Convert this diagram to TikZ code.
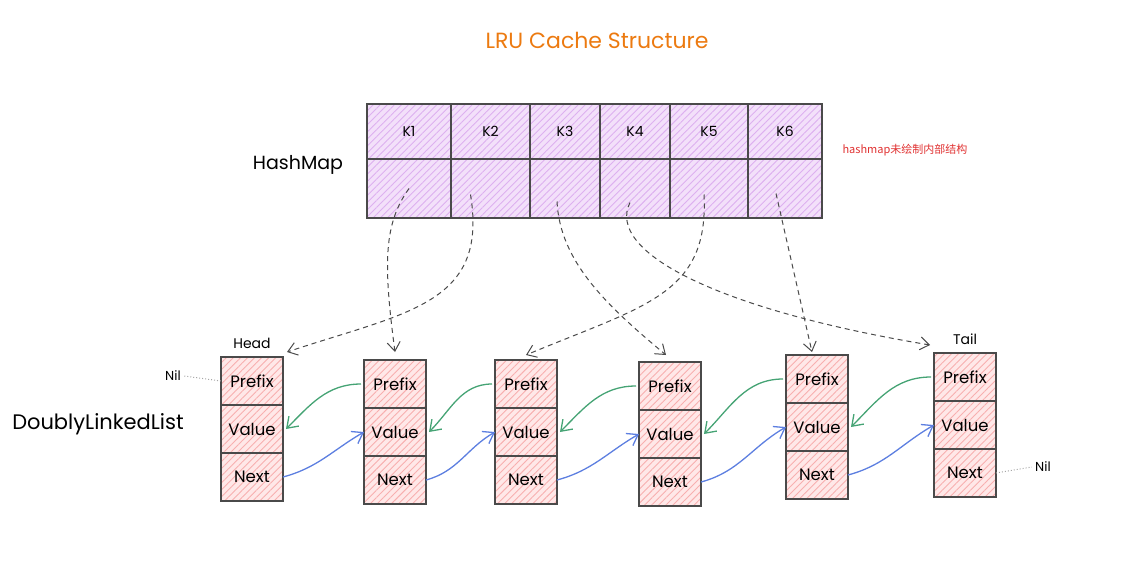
\documentclass[tikz,border=0pt]{standalone}
\usepackage{fontspec}
\setmainfont{Poppins}
\newfontfamily\cjkfont{Noto Sans CJK SC}
\usetikzlibrary{arrows.meta, positioning, patterns.meta}
\definecolor{hmFill}{HTML}{F3E0FA}
\definecolor{hmHatch}{HTML}{DDB0F0}
\definecolor{cellFill}{HTML}{FFE8E8}
\definecolor{cellHatch}{HTML}{F8AFAF}
\definecolor{edgeGray}{HTML}{4A4A4A}
\definecolor{prevGreen}{HTML}{45A374}
\definecolor{nextBlue}{HTML}{5D7FE0}
\definecolor{titleOrange}{HTML}{EC7A10}
\definecolor{noteRed}{HTML}{E03131}
\tikzset{
  kcell/.style={rectangle, draw=edgeGray, line width=1.2pt, outer sep=0pt,
                inner sep=0pt, minimum height=55pt,
                preaction={fill=hmFill},
                pattern={Lines[angle=45, distance=5pt, line width=0.9pt]},
                pattern color=hmHatch, font=\fontsize{14}{16}\selectfont},
  hcell/.style={kcell, minimum height=59pt},
  cell/.style={rectangle, draw=edgeGray, line width=1.2pt, outer sep=0pt,
               inner sep=0pt, minimum width=62pt, minimum height=48pt,
               preaction={fill=cellFill},
               pattern={Lines[angle=45, distance=5pt, line width=0.9pt]},
               pattern color=cellHatch, font=\fontsize{16.5}{19}\selectfont},
  keyarrow/.style={draw=edgeGray, line width=1pt, dash pattern=on 5pt off 4pt,
                   -{Straight Barb[length=9pt, width=13pt]}},
  prevarrow/.style={draw=prevGreen, line width=1.3pt,
                    -{Straight Barb[length=10pt, width=14pt]}},
  nextarrow/.style={draw=nextBlue, line width=1.3pt,
                    -{Straight Barb[length=10pt, width=14pt]}},
  nilline/.style={draw=gray!70, line width=1pt, dotted},
  lbl/.style={font=\fontsize{14}{16}\selectfont},
}
\begin{document}
\begin{tikzpicture}[x=1pt, y=-1pt]
    \useasboundingbox (0,0) rectangle (1143,584);
    % title and side labels
    \node[text=titleOrange, font=\fontsize{22}{26}\selectfont] (title) at (597,40) {LRU Cache Structure};
    \node[font=\fontsize{19}{22}\selectfont] (hmlabel) at (298,165) {HashMap};
    \node[font=\fontsize{21}{25}\selectfont] (dlllabel) at (98,424) {DoublyLinkedList};
    % hashmap
    \foreach \i/\x/\w in {1/367/84,2/451/79,3/530/70,4/600/70,5/670/78,6/748/74}{
      \node[kcell, minimum width=\w pt, anchor=north west] (k\i) at (\x,104) {K\i};
      \node[hcell, minimum width=\w pt, below=0pt of k\i] (h\i) {};
    }
    \node[anchor=west, text=noteRed, font=\cjkfont\fontsize{11}{13}\selectfont] (note) at (839,150) {hashmap未绘制内部结构};
    % list entries
    \foreach \i/\x/\y in {1/252/357,2/395/360,3/526/360,4/670/362,5/817/355,6/965/353}{
      \node[cell, anchor=north] (pre\i) at (\x,\y) {Prefix};
      \node[cell, below=0pt of pre\i] (val\i) {Value};
      \node[cell, below=0pt of val\i] (nxt\i) {Next};
    }
    \node[lbl, above=5pt of pre1] (head) {Head};
    \node[lbl, above=5pt of pre6] (tail) {Tail};
    \node[font=\fontsize{13}{15}\selectfont] (nilL) at (173,376) {Nil};
    \node[font=\fontsize{13}{15}\selectfont] (nilR) at (1043,467) {Nil};
    \draw[nilline] (nilL.east) -- (pre1.west);
    \draw[nilline] (nxt6.east) -- (nilR.west);
    % prev / next links
    \foreach \i/\j in {1/2,2/3,3/4,4/5,5/6}{
      \draw[prevarrow] ([xshift=-3pt]pre\j.west) to[out=180, in=45] ([xshift=3pt]val\i.east);
      \draw[nextarrow] (nxt\i.east) to[out=15, in=210] (val\j.west);
    }
    % hashmap slots -> entries
    \draw[keyarrow] (h1.center) .. controls +(-25,35) and +(-12,-90) .. ([yshift=8pt]pre2.north);
    \draw[keyarrow] ([xshift=-20pt,yshift=-6pt]h2.center) .. controls +(18,110) and +(120,-40) .. ([xshift=4pt,yshift=5pt]pre1.north east);
    \draw[keyarrow] ([xshift=-8pt,yshift=-13pt]h3.center) .. controls +(3,60) and +(-60,-50) .. ([xshift=-4pt,yshift=7pt]pre4.north);
    \draw[keyarrow] ([xshift=-5pt,yshift=-14pt]h4.center) .. controls +(-25,50) and +(-210,-35) .. ([xshift=-4pt,yshift=8pt]pre6.north west);
    \draw[keyarrow] ([xshift=-5pt,yshift=-6pt]h5.center) .. controls +(5,100) and +(120,-50) .. ([yshift=5pt]pre3.north);
    \draw[keyarrow] ([xshift=-9pt,yshift=-5pt]h6.center) -- ([xshift=-5pt,yshift=3pt]pre5.north);
\end{tikzpicture}
\end{document}
